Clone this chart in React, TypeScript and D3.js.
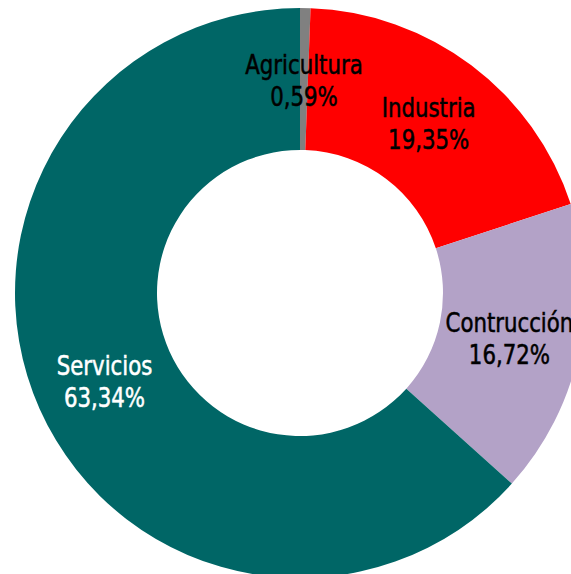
import React from "react";
import * as d3 from "d3";

const categories = ["Agricultura", "Industria", "Contrucción", "Servicios"];
const values = [0.59, 19.35, 16.72, 63.34];
const valueLabels = ["0,59%", "19,35%", "16,72%", "63,34%"];
const colors = ["#808080", "#FF0000", "#B3A2C7", "#006666"];
const textColors = ["#000000", "#000000", "#000000", "#FFFFFF"];

const W = 571;
const H = 574;
const cx = 300;
const cy = 293;
const outerR = 285;
const innerR = 143;

export default function App() {
  const pie = d3.pie<number>().sort(null).value((d) => d)(values);
  const arc = d3.arc<d3.PieArcDatum<number>>().innerRadius(innerR).outerRadius(outerR);
  const font = "'DejaVu Sans Condensed', 'DejaVu Sans', sans-serif";
  return (
    <div style={{ position: "fixed", left: 0, top: 0, width: W, height: H, overflow: "hidden", background: "#fff" }}>
      <svg width={W} height={H} style={{ display: "block" }}>
        <g transform={`translate(${cx},${cy})`}>
          {pie.map((p, i) => (
            <path key={"s" + i} d={arc(p) || ""} fill={colors[i]} />
          ))}
          {pie.map((p, i) => {
            const [x, y] = arc.centroid(p);
            return (
              <text
                key={"t" + i}
                transform={`translate(${x},${y}) scale(0.91,1)`}
                textAnchor="middle"
                fontFamily={font}
                fontSize={26}
                fill={textColors[i]}
                stroke={textColors[i]}
                strokeWidth={0.5}
              >
                <tspan x={0} y={-5}>{categories[i]}</tspan>
                <tspan x={0} y={27}>{valueLabels[i]}</tspan>
              </text>
            );
          })}
        </g>
      </svg>
    </div>
  );
}
